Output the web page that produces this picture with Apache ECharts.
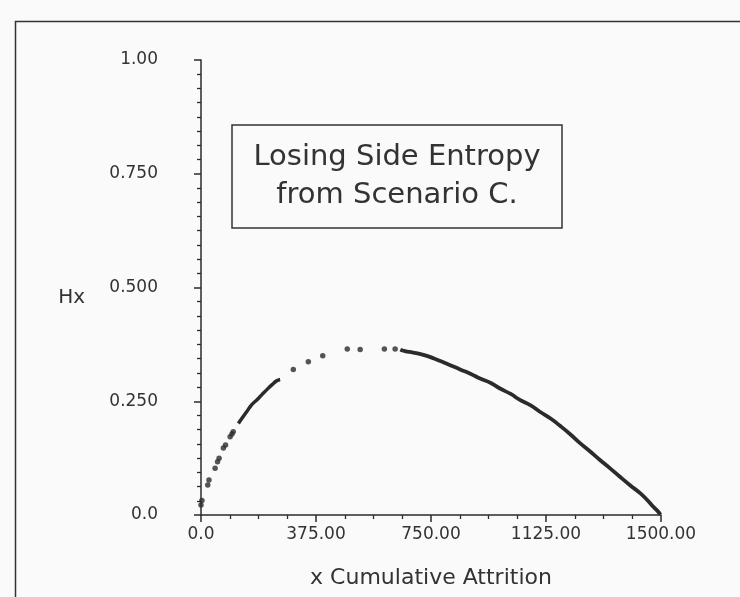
<!DOCTYPE html>
<html>
<head>
<meta charset="utf-8">
<script src="https://cdn.jsdelivr.net/npm/echarts@6/dist/echarts.min.js"></script>
<style>
html,body{margin:0;padding:0;background:#fafafa;}
#c{width:740px;height:597px;}
</style>
</head>
<body>
<div id="c"></div>
<script>
// ---- data ----
var xTickLabels = ['0.0', '375.00', '750.00', '1125.00', '1500.00'];
var yTickLabels = ['0.0', '0.250', '0.500', '0.750', '1.00'];

// isolated dots (early and near the peak)
var dotX = [0, 3, 22, 26, 46, 54, 59, 73, 80, 95, 101, 105, 301, 350, 397, 477, 519, 598, 633];
var dotY = [0.022, 0.032, 0.066, 0.077, 0.103, 0.117, 0.125, 0.147, 0.154, 0.172, 0.178, 0.183, 0.320, 0.337, 0.350, 0.365, 0.364, 0.365, 0.365];

// dense rising stretch
var riseX = [122, 133, 149, 165, 182, 198, 214, 231, 247, 258];
var riseY = [0.201, 0.212, 0.227, 0.242, 0.253, 0.264, 0.275, 0.286, 0.295, 0.298];

// dense falling stretch
var fallX = [650, 665, 692, 725, 760, 800, 845, 880, 910, 945, 975, 1010, 1040, 1075, 1105, 1140, 1171, 1205, 1236, 1270, 1301, 1335, 1366, 1400, 1432, 1455, 1475, 1490, 1498];
var fallY = [0.363, 0.360, 0.357, 0.352, 0.344, 0.333, 0.320, 0.310, 0.300, 0.290, 0.278, 0.266, 0.253, 0.241, 0.227, 0.212, 0.196, 0.177, 0.158, 0.139, 0.121, 0.102, 0.084, 0.065, 0.048, 0.033, 0.018, 0.008, 0.001];

function pairs(xs, ys) { return xs.map(function (x, i) { return [x, ys[i]]; }); }

var ink = '#2b2b2b';
var font = 'DejaVu Sans';

var chart = echarts.init(document.getElementById('c'), null, { renderer: 'canvas' });
chart.setOption({
  backgroundColor: '#fafafa',
  animation: false,
  grid: { left: 201, right: 79, top: 60, bottom: 82 },
  xAxis: {
    type: 'value', min: 0, max: 1500, interval: 375,
    name: 'x Cumulative Attrition', nameLocation: 'middle', nameGap: 52,
    nameTextStyle: { color: '#333', fontFamily: font, fontSize: 22, verticalAlign: 'top' },
    axisLine: { show: true, lineStyle: { color: ink, width: 1.5 } },
    axisTick: { show: true, length: 7, lineStyle: { color: ink, width: 1.5 } },
    minorTick: { show: true, splitNumber: 4, length: 4, lineStyle: { color: ink, width: 1.3 } },
    axisLabel: { margin: 11, color: '#333', fontFamily: font, fontSize: 17,
      formatter: function (v) { return xTickLabels[Math.round(v / 375)]; } },
    splitLine: { show: false }, minorSplitLine: { show: false }
  },
  yAxis: {
    type: 'value', min: 0, max: 1, interval: 0.25,
    name: 'Hx', nameLocation: 'middle', nameRotate: 0, nameGap: 116,
    nameTextStyle: { color: '#333', fontFamily: font, fontSize: 20, verticalAlign: 'top' },
    axisLine: { show: true, lineStyle: { color: ink, width: 1.5 } },
    axisTick: { show: true, length: 7, lineStyle: { color: ink, width: 1.5 } },
    minorTick: { show: true, splitNumber: 8, length: 4, lineStyle: { color: ink, width: 1.3 } },
    axisLabel: { margin: 43, color: '#333', fontFamily: font, fontSize: 17,
      formatter: function (v) { return yTickLabels[Math.round(v / 0.25)]; } },
    splitLine: { show: false }, minorSplitLine: { show: false }
  },
  series: [{
    type: 'scatter',
    data: pairs(dotX, dotY), symbol: 'circle', symbolSize: 5.5,
    itemStyle: { color: ink }
  }, {
    type: 'line', smooth: true, showSymbol: false,
    data: pairs(riseX, riseY), lineStyle: { color: ink, width: 3.5 }
  }, {
    type: 'line', smooth: true, showSymbol: false,
    data: pairs(fallX, fallY), lineStyle: { color: ink, width: 3.8 }
  }],
  graphic: [{
    type: 'rect', left: 13, top: 19, silent: true,
    shape: { x: 0, y: 0, width: 760, height: 600 },
    style: { fill: 'none', stroke: '#333', lineWidth: 1.5 }
  }, {
    type: 'rect', silent: true,
    shape: { x: 232, y: 125, width: 330, height: 103 },
    style: { fill: 'none', stroke: '#333', lineWidth: 1.5 }
  }, {
    type: 'text', silent: true, x: 397, y: 157,
    style: { text: 'Losing Side Entropy', fill: '#333', font: '29px "DejaVu Sans"', textAlign: 'center', textVerticalAlign: 'middle' }
  }, {
    type: 'text', silent: true, x: 397, y: 195,
    style: { text: 'from Scenario C.', fill: '#333', font: '29px "DejaVu Sans"', textAlign: 'center', textVerticalAlign: 'middle' }
  }]
});
</script>
</body>
</html>
